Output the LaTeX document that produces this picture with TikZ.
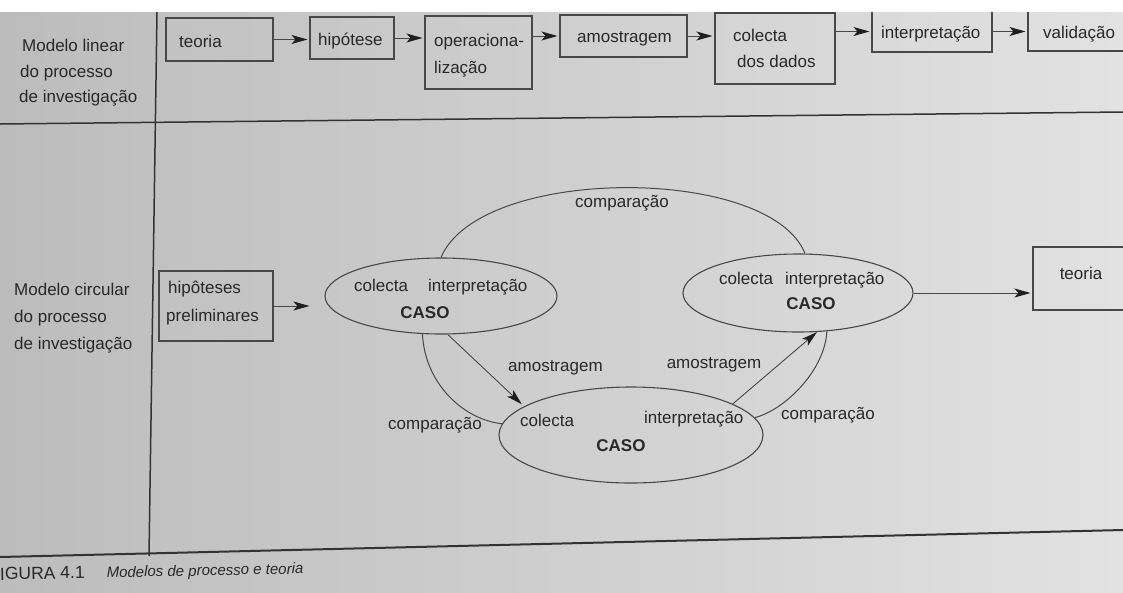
\documentclass[tikz,border=0pt]{standalone}
\usepackage{fontspec}
\setmainfont{Liberation Sans}
\usetikzlibrary{shapes.geometric,arrows.meta}
\definecolor{bgl}{RGB}{188,188,188}
\definecolor{bgr}{RGB}{226,226,226}
\definecolor{ink}{RGB}{40,40,40}
\definecolor{linec}{RGB}{72,72,72}
\begin{document}
\begin{tikzpicture}[x=1pt,y=-1pt,
  box/.style={draw=linec,line width=1.1pt,inner sep=0pt},
  lab/.style={font=\fontsize{17}{17}\selectfont,text=ink,inner sep=0pt,anchor=base west},
  labc/.style={font=\fontsize{17}{17}\selectfont,text=ink,inner sep=0pt,anchor=base},
  caso/.style={font=\fontsize{17}{17}\selectfont\bfseries,text=ink,inner sep=0pt,anchor=base},
  oval/.style={ellipse,draw=linec,line width=1.1pt,inner sep=0pt},
  arr/.style={draw=linec,line width=0.9pt,-{Stealth[length=16pt,width=9pt,inset=4pt,color=black!88]},shorten >=2pt},
  conn/.style={draw=linec,line width=1pt},
  rule/.style={draw=black!80,line width=1.5pt}
]
\useasboundingbox (0,0) rectangle (1123,592);
\clip (0,0) rectangle (1123,592);
\shade[left color=bgl,right color=bgr] (0,12) rectangle (1123,592);

% table rules
\coordinate (h1l) at (0,124); \coordinate (h1r) at (1123,112);
\coordinate (vt) at (157,12); \coordinate (vb) at (149,556);
\coordinate (h2l) at (0,557); \coordinate (h2r) at (1123,530);
\draw[rule] (h1l) -- (h1r);
\draw[rule] (vt) -- (vb);
\draw[rule,line width=2pt] (h2l) -- (h2r);

% row labels
\node[lab] (r1a) at (22,51) {Modelo linear};
\node[lab] (r1b) at (20,77) {do processo};
\node[lab] (r1c) at (19,102) {de investigação};
\node[lab] (r2a) at (14,295) {Modelo circular};
\node[lab] (r2b) at (14,322) {do processo};
\node[lab] (r2c) at (14,349) {de investigação};

% linear model boxes
\node[box,minimum width=107pt,minimum height=43pt] (bteo) at (219.5,39.5) {};
\node[box,minimum width=84pt,minimum height=42pt] (bhip) at (352,38) {};
\node[box,minimum width=107pt,minimum height=73pt] (bope) at (478.5,52.5) {};
\node[box,minimum width=127pt,minimum height=42pt] (bamo) at (623.5,36) {};
\node[box,minimum width=120pt,minimum height=71pt] (bcol) at (775,48.5) {};
\node[box,minimum width=120pt,minimum height=41pt] (bint) at (932,31.5) {};
\node[box,minimum width=112pt,minimum height=40pt] (bval) at (1084,31) {};

\node[lab] (tteo) at (179,47) {teoria};
\node[lab] (thip) at (318,45) {hipótese};
\node[lab] (tope1) at (434,46) {operaciona-};
\node[lab] (tope2) at (434,73) {lização};
\node[lab] (tamo) at (577,42) {amostragem};
\node[lab] (tcol1) at (733,41) {colecta};
\node[lab] (tcol2) at (737,67) {dos dados};
\node[lab] (tint) at (881,38) {interpretação};
\node[lab] (tval) at (1043,38) {validação};

\draw[arr] (bteo.east) -- (bteo.east -| bhip.west);
\draw[arr] (bhip.east) -- (bhip.east -| bope.west);
\draw[arr] (bope.east |- bamo.west) -- (bamo.west);
\draw[arr] (bamo.east) -- (bamo.east -| bcol.west);
\draw[arr] (bcol.east |- bint.west) -- (bint.west);
\draw[arr] (bint.east) -- (bint.east -| bval.west);

% circular model
\node[box,minimum width=114pt,minimum height=70pt] (bhyp) at (216,306) {};
\node[lab] (thyp1) at (168,293) {hipôteses};
\node[lab] (thyp2) at (166,321) {preliminares};

\node[oval,minimum width=232pt,minimum height=76pt] (e1) at (441,296) {};
\node[oval,minimum width=230pt,minimum height=78pt] (e2) at (798,293) {};
\node[oval,minimum width=264pt,minimum height=96pt] (e3) at (631,435) {};
\node[box,minimum width=110pt,minimum height=63pt] (bteo2) at (1088,278.5) {};

\node[lab] (e1a) at (354,291) {colecta};
\node[lab] (e1b) at (428,291) {interpretação};
\node[caso] (e1c) at (425,318) {CASO};
\node[lab] (e2a) at (719,284) {colecta};
\node[lab] (e2b) at (785,284) {interpretação};
\node[caso] (e2c) at (811,309) {CASO};
\node[lab] (e3a) at (520,426) {colecta};
\node[lab] (e3b) at (644,423) {interpretação};
\node[caso] (e3c) at (621,451) {CASO};
\node[labc] (tteo2) at (1081,279) {teoria};

\coordinate (hypend) at (e1.west |- bhyp.east);
\draw[arr,shorten >=15pt] (bhyp.east) -- (hypend);
\coordinate (teoend) at (bteo2.west |- e2.east);
\draw[arr] (e2.east) -- (teoend);

\draw[conn] (e1.north) .. controls (480,165) and (770,165) .. (e2.80);
\draw[conn] (e1.-116) .. controls (425,385) and (465,420) .. (e3.175);
\draw[conn] (e3.8) .. controls (785,410) and (825,370) .. (e2.-53);
\draw[arr,shorten >=3pt] (e1.-80) -- (e3.165);
\draw[arr,shorten >=0pt] (e3.17) -- (e2.-64);

\node[labc] (cmp1) at (622,207) {comparação};
\node[labc] (cmp2) at (435,429) {comparação};
\node[labc] (cmp3) at (828,419) {comparação};
\node[lab] (amo1) at (508,371) {amostragem};
\node[labc] (amo2) at (714,368) {amostragem};

% caption
\node[text=ink,anchor=base west,inner sep=0pt,rotate=1.2] (cap) at (0,580) {\fontsize{17.5}{17.5}\selectfont IGURA 4.1\hspace{22pt}\fontsize{15}{15}\selectfont\textit{Modelos de processo e teoria}};

\fill[white] (0,0) rectangle (1123,12);
\end{tikzpicture}
\end{document}
